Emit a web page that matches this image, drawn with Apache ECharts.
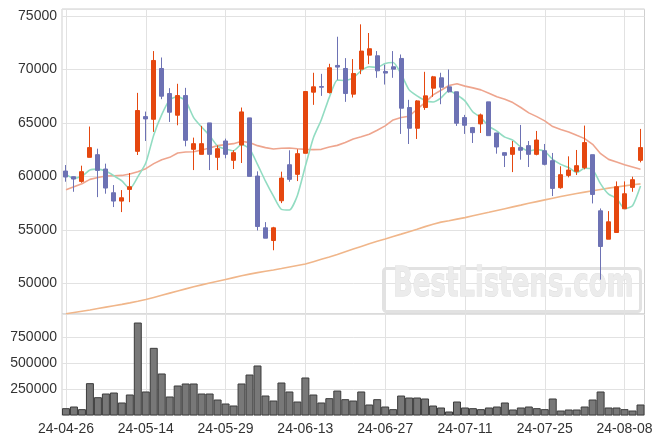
<!DOCTYPE html>
<html>
<head>
<meta charset="utf-8">
<script src="https://cdn.jsdelivr.net/npm/echarts@6/dist/echarts.min.js"></script>
<style>html,body{margin:0;padding:0;background:#fff;}#chart{width:663px;height:444px;}</style>
</head>
<body>
<div id="chart"></div>
<script>
const dates = ['24-04-26','24-04-29','24-04-30','24-05-02','24-05-03','24-05-07','24-05-08','24-05-09','24-05-10','24-05-13',
'24-05-14','24-05-16','24-05-17','24-05-20','24-05-21','24-05-22','24-05-23','24-05-24','24-05-27','24-05-28',
'24-05-29','24-05-30','24-05-31','24-06-03','24-06-04','24-06-05','24-06-07','24-06-10','24-06-11','24-06-12',
'24-06-13','24-06-14','24-06-17','24-06-18','24-06-19','24-06-20','24-06-21','24-06-24','24-06-25','24-06-26',
'24-06-27','24-06-28','24-07-01','24-07-02','24-07-03','24-07-04','24-07-05','24-07-08','24-07-09','24-07-10',
'24-07-11','24-07-12','24-07-15','24-07-16','24-07-17','24-07-18','24-07-19','24-07-22','24-07-23','24-07-24',
'24-07-25','24-07-26','24-07-29','24-07-30','24-07-31','24-08-01','24-08-02','24-08-05','24-08-06','24-08-07',
'24-08-08','24-08-09','24-08-12'];

const opens = [60500,59970,59530,61780,62030,60690,58470,57690,58780,62340,
65590,65340,70090,67750,65720,67560,62530,62060,65000,61780,
63310,61500,62940,65470,60030,55190,54000,57720,61090,60190,
62160,67875,68400,67840,70375,70090,67690,70030,71340,71280,
69810,70250,71030,66440,64500,66440,68250,69220,68375,67910,
65500,64560,64910,66970,64060,62220,62060,62690,62875,62060,
62400,61470,58940,60090,60470,60810,62030,56780,54125,54750,
56970,58970,61500];

const closes = [59940,59750,60440,62690,60560,58910,57690,58000,59030,66160,
65375,70840,67500,66000,67560,63375,63060,63060,62060,62590,
62060,62220,66030,60000,55310,54220,55190,59840,59720,62125,
67940,68375,68340,70160,70220,67750,69625,71720,71940,69875,
69660,70030,66375,64500,67060,67530,69310,68340,67910,64970,
64780,64090,65750,63810,62750,61970,62690,62440,62060,63400,
61125,58875,60160,60590,61000,63160,58310,53440,55750,59030,
58375,59690,62690];

const lows = [59500,58560,59400,61780,58060,58380,57130,56660,57590,62000,
63310,64160,67220,65090,64780,62810,60590,62060,60590,60590,
61690,60690,61250,60000,54940,54220,53090,57500,59500,59560,
62160,66690,67530,67750,69030,66970,67375,69560,70500,69220,
68590,69220,63970,63030,63500,66220,67440,66750,67840,64720,
63970,63125,64060,63810,62125,60875,60400,61560,60875,61970,
61030,58160,58840,59910,60125,60660,57470,50340,54125,54750,
56970,58560,61310];

const highs = [61060,60000,61000,64660,62590,61190,59190,58720,60310,67810,
66060,71720,71120,68250,68660,68280,63625,64720,65000,62900,
63530,62440,66440,65470,60470,55720,55280,60440,62440,62530,
67940,69690,69590,70530,73060,71060,70970,74220,73410,71720,
70440,71720,71400,67160,67125,69780,69400,69690,70000,67910,
65750,64625,65875,66970,64060,62220,63310,64810,63310,64250,
63030,62190,60940,61875,62470,64750,62030,57000,56750,59530,
59530,59970,64440];

const ma5 = [60190,59810,60030,60590,60676,60470,60058,59570,58838,59958,
61251,63881,65781,67175,67455,67055,65499,64611,63823,62829,
62566,62398,62992,62580,61124,59556,58150,56912,56856,58219,
60963,63600,65300,67388,69007,68969,69219,69895,70251,70182,
70564,70645,69576,68088,67525,67099,66955,67348,68030,67612,
67062,66018,65500,64680,64236,63674,63394,62732,62382,62512,
62343,61580,61124,60830,60350,60757,60644,59300,58332,57938,
56981,57257,59107];

const ma20 = [58750,59030,59310,59720,59900,60030,60060,60090,60220,60440,
60720,61190,61560,61780,62190,62280,62310,62470,62650,62875,
62970,63060,63280,63160,62875,62690,62560,62625,62660,62590,
62530,62500,62530,62750,62900,63160,63500,63700,63940,64310,
64720,65280,65500,65625,66280,66900,67625,68060,68500,68660,
68440,68280,68090,67780,67440,67220,66900,66440,65940,65590,
65190,64660,64375,64160,63840,63530,63000,62125,61590,61340,
61090,60875,60660];

const ma120 = [47150,47270,47390,47510,47640,47770,47900,48030,48170,48320,
48480,48680,48880,49080,49280,49480,49670,49850,50020,50190,
50360,50530,50700,50860,51000,51130,51250,51380,51520,51660,
51800,52020,52240,52460,52700,52950,53200,53450,53700,53930,
54150,54380,54600,54830,55050,55300,55530,55720,55850,56000,
56140,56310,56480,56640,56810,56980,57150,57310,57480,57640,
57800,57960,58110,58260,58400,58530,58660,58780,58900,59010,
59110,59210,59300];

const volumes = [70500,86500,61000,311000,176000,211500,221000,125000,202000,894000,
231000,650600,404000,182700,288500,307700,307700,211500,211500,153800,
115400,96200,307700,394000,480800,192300,144200,317300,230800,134600,
365400,201900,125000,166700,240000,157000,144000,231000,105800,157000,
86500,61000,192000,173000,173000,163500,96000,77000,38500,134600,
77000,70500,61000,77000,86500,125000,57700,77000,86500,70500,
61000,163500,48000,57700,57700,86500,153800,230800,77000,77000,
61000,48000,105800];

const candleData = dates.map((d, i) => [opens[i], closes[i], lows[i], highs[i]]);

const UP = '#e5470f';
const DOWN = '#6d72b4';
const labelFont = {color: '#333', fontSize: 14, fontFamily: 'Liberation Sans', formatter: v => String(v)};
const gridLine = {lineStyle: {color: '#e2e2e2', width: 1}};

const chart = echarts.init(document.getElementById('chart'), null, {renderer: 'canvas'});
chart.setOption({
  animation: false,
  backgroundColor: '#fff',
  grid: [
    {left: 62, right: 18.5, top: 9, height: 305, show: true, borderColor: '#cfcfcf', borderWidth: 1},
    {left: 62, right: 18.5, top: 314, height: 101.5, show: true, borderColor: '#cfcfcf', borderWidth: 1}
  ],
  xAxis: [
    {type: 'category', gridIndex: 0, data: dates, boundaryGap: true,
     axisLine: {show: false}, axisTick: {show: false}, axisLabel: {show: false},
     splitLine: Object.assign({show: true, interval: 9, alignWithLabel: true}, gridLine)},
    {type: 'category', gridIndex: 1, data: dates, boundaryGap: true,
     axisLine: {show: false}, axisTick: {show: false},
     axisLabel: Object.assign({interval: 9, margin: 7}, labelFont),
     splitLine: Object.assign({show: true, interval: 9, alignWithLabel: true}, gridLine)}
  ],
  yAxis: [
    {type: 'value', gridIndex: 0, min: 47128, max: 75655, splitNumber: 5,
     axisLine: {show: false}, axisTick: {show: false},
     axisLabel: Object.assign({margin: 5, showMinLabel: false, showMaxLabel: false}, labelFont),
     splitLine: gridLine},
    {type: 'value', gridIndex: 1, min: 0, max: 975960, interval: 250000,
     axisLine: {show: false}, axisTick: {show: false},
     axisLabel: Object.assign({margin: 5, showMinLabel: false, showMaxLabel: false}, labelFont),
     splitLine: gridLine}
  ],
  graphic: [
    {type: 'rect', z: 1, shape: {x: 383.5, y: 268.5, width: 257, height: 43, r: 3},
     style: {fill: 'rgba(255,255,255,0)', stroke: '#e2e2e2', lineWidth: 3}},
    {type: 'text', z: 1, x: 393, y: 286, scaleX: 0.65,
     style: {text: 'BestListens.com', font: 'bold 40px "DejaVu Sans"', fill: '#ececec',
             stroke: '#dddddd', lineWidth: 1, verticalAlign: 'middle', align: 'left'}}
  ],
  series: [
    {name: 'MA120', type: 'line', xAxisIndex: 0, yAxisIndex: 0, data: ma120, symbol: 'none',
     lineStyle: {color: '#f0b68a', width: 1.6}, z: 2},
    {name: 'MA20', type: 'line', xAxisIndex: 0, yAxisIndex: 0, data: ma20, symbol: 'none',
     lineStyle: {color: '#eea58e', width: 1.6}, z: 2},
    {name: 'MA5', type: 'line', xAxisIndex: 0, yAxisIndex: 0, data: ma5, symbol: 'none', smooth: 0.2,
     lineStyle: {color: '#92dcc2', width: 1.6}, z: 3},
    {name: 'Price', type: 'candlestick', xAxisIndex: 0, yAxisIndex: 0, data: candleData,
     barWidth: 4.5, z: 4,
     itemStyle: {color: UP, color0: DOWN, borderColor: UP, borderColor0: DOWN, borderWidth: 1}},
    {name: 'Volume', type: 'bar', xAxisIndex: 1, yAxisIndex: 1, data: volumes,
     barWidth: '100%', itemStyle: {color: '#787878', borderColor: '#3c3c3c', borderWidth: 1}}
  ]
});
</script>
</body>
</html>
